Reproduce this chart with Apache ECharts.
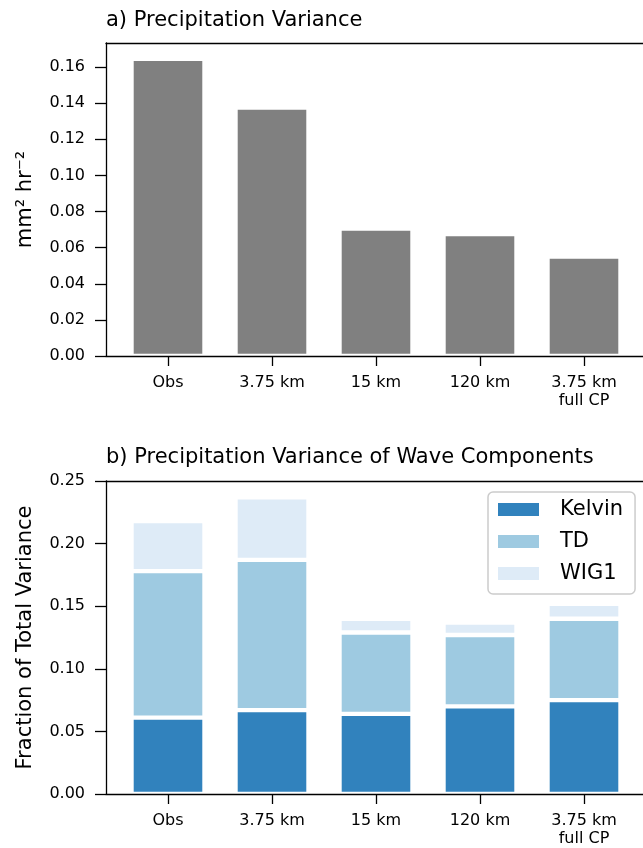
<!DOCTYPE html>
<html>
<head>
<meta charset="utf-8">
<script src="https://cdn.jsdelivr.net/npm/echarts@6/dist/echarts.min.js"></script>
<style>
  html, body { margin: 0; padding: 0; background: #fff; }
  #chart { width: 643px; height: 848px; }
</style>
</head>
<body>
<div id="chart"></div>
<script>
// categories + values
var cats = ['Obs', '3.75 km', '15 km', '120 km', '3.75 km\nfull CP'];
var precipVar = [0.1645, 0.1375, 0.0705, 0.0675, 0.0550];
var kelvin = [0.061, 0.067, 0.064, 0.070, 0.075];
var td = [0.117, 0.120, 0.065, 0.057, 0.065];
var wig1 = [0.040, 0.050, 0.011, 0.010, 0.012];
var ticksA = [0, 0.02, 0.04, 0.06, 0.08, 0.10, 0.12, 0.14, 0.16];
var ticksB = [0, 0.05, 0.10, 0.15, 0.20, 0.25];

var FONT = 'DejaVu Sans';
var TOP_A = 43, TOP_B = 481, H = 313;
var spine = { color: '#000', width: 1.3 };

// frame grid = spines + y axis, data grid = bars + category axis
function frameX(idx, pos) {
    return {
        type: 'value', gridIndex: idx, min: 0, max: 1, position: pos, z: 10,
        axisLine: { show: true, onZero: false, lineStyle: spine },
        axisTick: { show: false }, axisLabel: { show: false }, splitLine: { show: false }
    };
}
function dataX(idx) {
    return {
        type: 'category', gridIndex: idx, data: cats,
        axisLine: { show: false },
        axisTick: { show: true, alignWithLabel: true, interval: 0, length: 10, lineStyle: spine },
        axisLabel: { interval: 0, margin: 18, color: '#000', fontFamily: FONT, fontSize: 16, lineHeight: 18 }
    };
}
function frameY(idx, max, ticks, name) {
    return {
        type: 'value', gridIndex: idx, min: 0, max: max, z: 10,
        name: name, nameLocation: 'middle', nameGap: 70,
        nameTextStyle: { fontFamily: FONT, fontSize: 21, color: '#000' },
        splitLine: { show: false },
        axisLine: { show: true, onZero: false, lineStyle: spine },
        axisTick: { show: true, customValues: ticks, length: 11, lineStyle: spine },
        axisLabel: {
            customValues: ticks, margin: 21, color: '#000', fontFamily: FONT, fontSize: 16,
            formatter: function (v) { return v.toFixed(2); }
        }
    };
}
function dataY(idx, max) {
    return { type: 'value', gridIndex: idx, min: 0, max: max, show: false, splitLine: { show: false } };
}

var barStyle = function (c) {
    return { color: c, borderColor: '#fff', borderWidth: 2.2 };
};

var myChart = echarts.init(document.getElementById('chart'), null, { renderer: 'canvas' });

var option = {
    animation: false,
    backgroundColor: '#fff',
    title: [
        { text: 'a) Precipitation Variance', left: 106, top: 10, padding: 0,
          textStyle: { fontFamily: FONT, fontSize: 21, fontWeight: 'normal', color: '#000' } },
        { text: 'b) Precipitation Variance of Wave Components', left: 106, top: 447, padding: 0,
          textStyle: { fontFamily: FONT, fontSize: 21, fontWeight: 'normal', color: '#000' } }
    ],
    grid: [
        { left: 106, top: TOP_A, right: 0, height: H },
        { left: 116, top: TOP_A, width: 520, height: H },
        { left: 106, top: TOP_B, right: 0, height: H },
        { left: 116, top: TOP_B, width: 520, height: H }
    ],
    legend: {
        data: ['Kelvin', 'TD', 'WIG1'],
        orient: 'vertical', left: 488, top: 492, z: 12,
        padding: [7, 12, 10, 10], itemGap: 11,
        itemWidth: 41, itemHeight: 13, icon: 'rect',
        backgroundColor: 'rgba(255,255,255,0.85)', borderColor: '#ccc', borderWidth: 1.5, borderRadius: 5,
        textStyle: { fontFamily: FONT, fontSize: 21, color: '#000', padding: [0, 0, 0, 16] },
        itemStyle: { borderWidth: 0 }
    },
    xAxis: [
        frameX(0, 'bottom'), frameX(0, 'top'), dataX(1),
        frameX(2, 'bottom'), frameX(2, 'top'), dataX(3)
    ],
    yAxis: [
        frameY(0, 0.1733, ticksA, 'mm² hr⁻²'),
        dataY(1, 0.1733),
        frameY(2, 0.25, ticksB, 'Fraction of Total Variance'),
        dataY(3, 0.25)
    ],
    series: [
        { name: 'Precip', type: 'bar', xAxisIndex: 2, yAxisIndex: 1, barWidth: 73,
          itemStyle: barStyle('#808080'), data: precipVar },
        { name: 'Kelvin', type: 'bar', stack: 'waves', xAxisIndex: 5, yAxisIndex: 3, barWidth: 73,
          itemStyle: barStyle('#3182bd'), data: kelvin },
        { name: 'TD', type: 'bar', stack: 'waves', xAxisIndex: 5, yAxisIndex: 3, barWidth: 73,
          itemStyle: barStyle('#9ecae1'), data: td },
        { name: 'WIG1', type: 'bar', stack: 'waves', xAxisIndex: 5, yAxisIndex: 3, barWidth: 73,
          itemStyle: barStyle('#deebf7'), data: wig1 }
    ]
};
myChart.setOption(option);
</script>
</body>
</html>
